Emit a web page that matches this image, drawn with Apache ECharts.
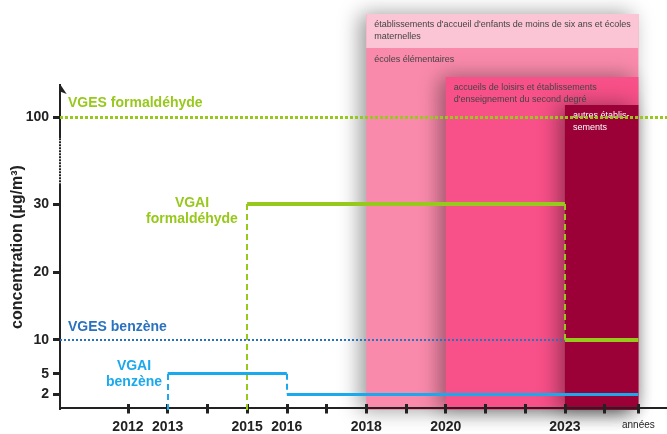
<!DOCTYPE html>
<html lang="fr">
<head>
<meta charset="UTF-8">
<title>Valeurs guides formaldéhyde et benzène</title>
<script src="https://cdn.jsdelivr.net/npm/echarts@6.0.0/dist/echarts.min.js"></script>
<style>
  html, body { margin: 0; padding: 0; background: #fff; }
  #main { width: 667px; height: 434px; }
</style>
</head>
<body>
<div id="main"></div>
<script>
// axes
var yearTicks = [2012, 2013, 2014, 2015, 2016, 2017, 2018, 2019, 2020, 2021, 2022, 2023, 2024];
var yearLabels = [2012, 2013, 2015, 2016, 2018, 2020, 2023];
var endYear = 2024.85;          // graduation "années"
var concTicks = [2, 5, 10, 20, 30, 100];

// valeurs guides (µg/m3)
var vgesFormValue = 100;
var vgesBenzValue = 10;
var vgesBenzUntil = 2023;
var vgaiFormYears = [2015, 2023];
var vgaiFormValues = [30, 10];
var vgaiBenzYears = [2013, 2016];
var vgaiBenzValues = [5, 2];

// établissements concernés et année d'entrée en vigueur
var estabNames = [
  "établissements d'accueil d'enfants de moins de six ans et écoles\nmaternelles",
  "écoles élémentaires",
  "accueils de loisirs et établissements\nd'enseignement du second degré",
  "autres établis-\nsements"
];
var estabYears = [2018, 2018, 2020, 2023];

// mise en page
var xMin = 2010.29, xMax = 2025.57;
var yMin = -0.35, yMax = 115.17, yArrow = 104.86;
var boxTops = [yMax, 110.16, 105.89, 101.77];
var boxColors = ['#fcc5d5', '#fa8aac', '#f85088', '#9b0036'];
var green = '#97c81c', blue = '#1aa9ec', darkBlue = '#2a72c0', ink = '#222';
var font = "'Liberation Sans', Arial, sans-serif";

function steps(years, values, start) {
  var flat = [], vert = [];
  for (var i = 0; i < years.length; i++) {
    var to = i + 1 < years.length ? years[i + 1] : endYear;
    flat.push({ coords: [[years[i], values[i]], [to, values[i]]] });
    var from = i === 0 ? start : values[i - 1];
    vert.push({ coords: [[years[i], from], [years[i], values[i]]] });
  }
  return { flat: flat, vert: vert };
}
var form = steps(vgaiFormYears, vgaiFormValues, yMin);
var benz = steps(vgaiBenzYears, vgaiBenzValues, yMin);

var shadow = { shadowBlur: 20, shadowOffsetX: -6, shadowColor: 'rgba(0,0,0,0.4)' };
function boxLabel(text, color) {
  return {
    show: true, position: 'insideTopLeft', distance: 0, padding: [5, 0, 0, 8],
    formatter: text, color: color || '#444', fontSize: 9, lineHeight: 12, fontFamily: font
  };
}
var areas = [
  [{ xAxis: estabYears[0], yAxis: boxTops[0], itemStyle: Object.assign({ color: boxColors[1] }, shadow), label: { show: false } },
   { xAxis: endYear, yAxis: yMin }],
  [{ xAxis: estabYears[0], yAxis: boxTops[0], itemStyle: { color: boxColors[0] }, label: boxLabel(estabNames[0]) },
   { xAxis: endYear, yAxis: boxTops[1] }],
  [{ xAxis: estabYears[1], yAxis: boxTops[1], itemStyle: { color: 'rgba(0,0,0,0)' }, label: boxLabel(estabNames[1]) },
   { xAxis: endYear, yAxis: yMin }],
  [{ xAxis: estabYears[2], yAxis: boxTops[2], itemStyle: Object.assign({ color: boxColors[2] }, shadow), label: boxLabel(estabNames[2]) },
   { xAxis: endYear, yAxis: yMin }],
  [{ xAxis: estabYears[3], yAxis: boxTops[3], itemStyle: Object.assign({ color: boxColors[3] }, shadow), label: boxLabel(estabNames[3], '#fff') },
   { xAxis: endYear, yAxis: yMin }]
];

var myChart = echarts.init(document.getElementById('main'));
myChart.setOption({
  animation: false,
  textStyle: { fontFamily: font },
  grid: { left: 60, right: 0, top: 14, bottom: 24 },
  xAxis: [{
    type: 'value', min: xMin, max: xMax,
    axisLine: { lineStyle: { color: ink, width: 2 } },
    axisTick: { customValues: yearTicks.concat([endYear]), length: 6, lineStyle: { color: ink, width: 3 } },
    axisLabel: {
      customValues: yearLabels.concat([endYear]), margin: 10,
      color: ink, fontSize: 14, fontWeight: 'bold',
      formatter: function (v) { return Math.abs(v - endYear) < 0.01 ? '{a|années}' : String(v); },
      rich: { a: { fontSize: 10, fontWeight: 'normal', color: ink } }
    },
    splitLine: { show: false }
  }, {
    type: 'value', min: xMin, max: xMax, position: 'bottom',
    axisLine: { show: false },
    axisTick: { inside: true, customValues: yearTicks.concat([endYear]), length: 6, lineStyle: { color: ink, width: 3 } },
    axisLabel: { show: false },
    splitLine: { show: false }
  }],
  yAxis: {
    type: 'value', min: yMin, max: yMax,
    breaks: [{ start: 33, end: 97, gap: 6.8 }],
    breakArea: { show: false, itemStyle: { opacity: 0 } },
    axisLine: { show: false },
    axisTick: { customValues: concTicks, length: 7, lineStyle: { color: ink, width: 3 } },
    axisLabel: { customValues: concTicks, margin: 11, color: ink, fontSize: 14, fontWeight: 'bold' },
    splitLine: { show: false }
  },
  graphic: [
    { type: 'text', left: 68, top: 96, style: { text: 'VGES formaldéhyde', fill: green, font: 'bold 14px ' + font } },
    { type: 'text', x: 192, y: 211, style: { text: 'VGAI\nformaldéhyde', fill: green, font: 'bold 14px ' + font, align: 'center', verticalAlign: 'middle', lineHeight: 16 } },
    { type: 'text', left: 68, top: 320, style: { text: 'VGES benzène', fill: darkBlue, font: 'bold 14px ' + font } },
    { type: 'text', x: 134, y: 374, style: { text: 'VGAI\nbenzène', fill: blue, font: 'bold 14px ' + font, align: 'center', verticalAlign: 'middle', lineHeight: 16 } },
    { type: 'text', x: 18, y: 247, rotation: Math.PI / 2, style: { text: 'concentration (µg/m³)', fill: ink, font: 'bold 16px ' + font, align: 'center', verticalAlign: 'middle' } }
  ],
  series: [
    { type: 'line', data: [], z: -1, markArea: { z: -1, silent: true, data: areas } },
    { // axe vertical avec flèche
      type: 'lines', coordinateSystem: 'cartesian2d', z: 3, symbol: ['none', 'arrow'], symbolSize: [7, 10],
      lineStyle: { color: ink, width: 2, opacity: 1 },
      data: [{ coords: [[xMin, yMin], [xMin, yArrow]] }]
    },
    { // rupture d'échelle
      type: 'lines', coordinateSystem: 'cartesian2d', z: 4,
      lineStyle: { color: '#fff', width: 2, type: [1, 2], opacity: 1 },
      data: [{ coords: [[xMin, 33.5], [xMin, 96]] }]
    },
    {
      type: 'lines', coordinateSystem: 'cartesian2d', z: 3,
      lineStyle: { color: green, width: 3, type: [3, 2], opacity: 1 },
      data: [{ coords: [[xMin, vgesFormValue], [xMax, vgesFormValue]] }]
    },
    {
      type: 'lines', coordinateSystem: 'cartesian2d', z: 3,
      lineStyle: { color: darkBlue, width: 2, type: [2, 2], opacity: 1 },
      data: [{ coords: [[xMin, vgesBenzValue], [vgesBenzUntil, vgesBenzValue]] }]
    },
    {
      type: 'lines', coordinateSystem: 'cartesian2d', z: 3,
      lineStyle: { color: green, width: 4, opacity: 1 }, data: form.flat
    },
    {
      type: 'lines', coordinateSystem: 'cartesian2d', z: 3,
      lineStyle: { color: green, width: 2, type: [6, 4], opacity: 1 }, data: form.vert
    },
    {
      type: 'lines', coordinateSystem: 'cartesian2d', z: 3,
      lineStyle: { color: blue, width: 3, opacity: 1 }, data: benz.flat
    },
    {
      type: 'lines', coordinateSystem: 'cartesian2d', z: 3,
      lineStyle: { color: blue, width: 2, type: [6, 4], opacity: 1 }, data: benz.vert
    }
  ]
});
</script>
</body>
</html>
